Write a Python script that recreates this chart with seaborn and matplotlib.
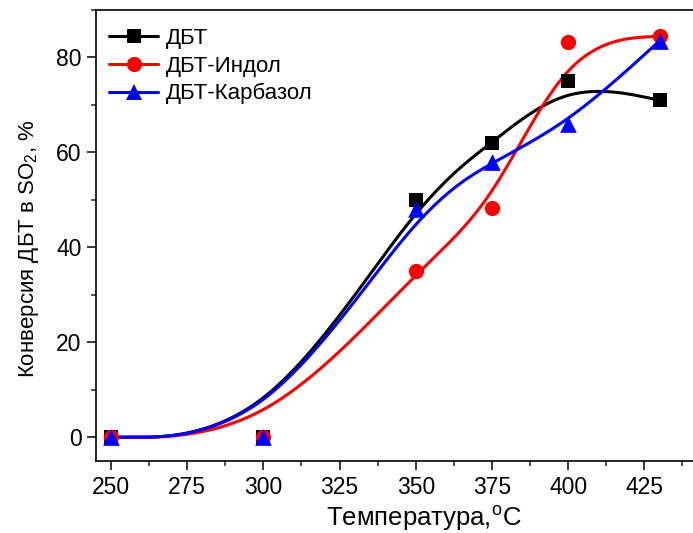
# import libraries
import numpy as np
import pandas as pd
import matplotlib
matplotlib.use("Agg")
import matplotlib.pyplot as plt
from matplotlib.lines import Line2D
from matplotlib.ticker import FixedLocator, MultipleLocator
import seaborn as sns


# data
temperature = [250, 300, 350, 375, 400, 430]
dbt = [0, 0, 50, 62, 75, 71]
dbt_indole = [0, 0, 35, 48.3, 83.3, 84.5]
dbt_carbazole = [0, 0, 48, 58, 66, 83.5]

series_names = ["ДБТ", "ДБТ-Индол", "ДБТ-Карбазол"]
series_values = [dbt, dbt_indole, dbt_carbazole]
colors = ["black", "red", "blue"]
markers = ["s", "o", "^"]
marker_sizes = [10, 11, 12]

x_ticks = [250, 275, 300, 325, 350, 375, 400, 425]


# uniform cubic B-spline smoothing, data points as control points,
# end points repeated so the curve starts and ends on them
def bspline(xs, ys, n=60):
    pts = np.column_stack([xs, ys]).astype(float)
    q = np.vstack([pts[:1], pts[:1], pts, pts[-1:], pts[-1:]])
    s = np.linspace(0, 1, n)
    b0 = (1 - s) ** 3 / 6
    b1 = (3 * s ** 3 - 6 * s ** 2 + 4) / 6
    b2 = (-3 * s ** 3 + 3 * s ** 2 + 3 * s + 1) / 6
    b3 = s ** 3 / 6
    out = []
    for i in range(len(q) - 3):
        seg = (np.outer(b0, q[i]) + np.outer(b1, q[i + 1])
               + np.outer(b2, q[i + 2]) + np.outer(b3, q[i + 3]))
        out.append(seg)
    out = np.vstack(out)
    return out[:, 0], out[:, 1]


# style
sns.set_style("ticks")
plt.rcParams["font.family"] = ["Liberation Sans", "DejaVu Sans"]
plt.rcParams["mathtext.fontset"] = "custom"
plt.rcParams["mathtext.rm"] = "Liberation Sans"
plt.rcParams["mathtext.it"] = "Liberation Sans"
plt.rcParams["text.color"] = "black"
plt.rcParams["axes.labelcolor"] = "black"

fig = plt.figure(figsize=(6.93, 5.33), dpi=100)
# the right part of the frame lies outside the picture, as in the reference
ax = fig.add_axes([96 / 693, 72 / 533, 655 / 693, 451 / 533])

handles = []
for name, values, color, marker, ms in zip(series_names, series_values,
                                            colors, markers, marker_sizes):
    sx, sy = bspline(temperature, values)
    curve = pd.DataFrame({"x": sx, "y": sy})
    sns.lineplot(data=curve, x="x", y="y", sort=False, color=color,
                 linewidth=2.2, ax=ax, estimator=None)
    handles.append(Line2D([], [], color=color, linewidth=2.2, marker=marker,
                          markersize=ms, markeredgewidth=0, label=name))

for name, values, color, marker, ms in zip(series_names, series_values,
                                            colors, markers, marker_sizes):
    points = pd.DataFrame({"x": temperature, "y": values})
    sns.scatterplot(data=points, x="x", y="y", color=color, marker=marker,
                    s=ms ** 2, linewidth=0, ax=ax, zorder=5)

ax.set_xlim(245.1, 460)
ax.set_ylim(-5, 90)
ax.xaxis.set_major_locator(FixedLocator(x_ticks))
ax.xaxis.set_minor_locator(MultipleLocator(12.5))
ax.yaxis.set_major_locator(MultipleLocator(20))
ax.yaxis.set_minor_locator(MultipleLocator(10))

ax.tick_params(which="major", direction="out", length=6.5, width=1.1,
               labelsize=16.5, colors="black", pad=4)
ax.tick_params(which="minor", direction="out", length=3.5, width=1.1)

for side in ["left", "bottom", "top", "right"]:
    ax.spines[side].set_visible(True)
    ax.spines[side].set_linewidth(1.2)
    ax.spines[side].set_color("black")

ax.set_xlabel(r"Температура,$^{\mathrm{o}}$C", fontsize=18.5, labelpad=4)
ax.set_ylabel(r"Конверсия ДБТ в SO$_2$, %", fontsize=16)
ax.yaxis.set_label_coords(-0.084, 0.47)

ax.legend(handles=handles, loc="upper left", frameon=False, fontsize=16,
          handlelength=2.2, handletextpad=0.35, labelspacing=0.3,
          borderaxespad=0.2, bbox_to_anchor=(0.0, 0.99))

fig.savefig("out.png", dpi=100)
